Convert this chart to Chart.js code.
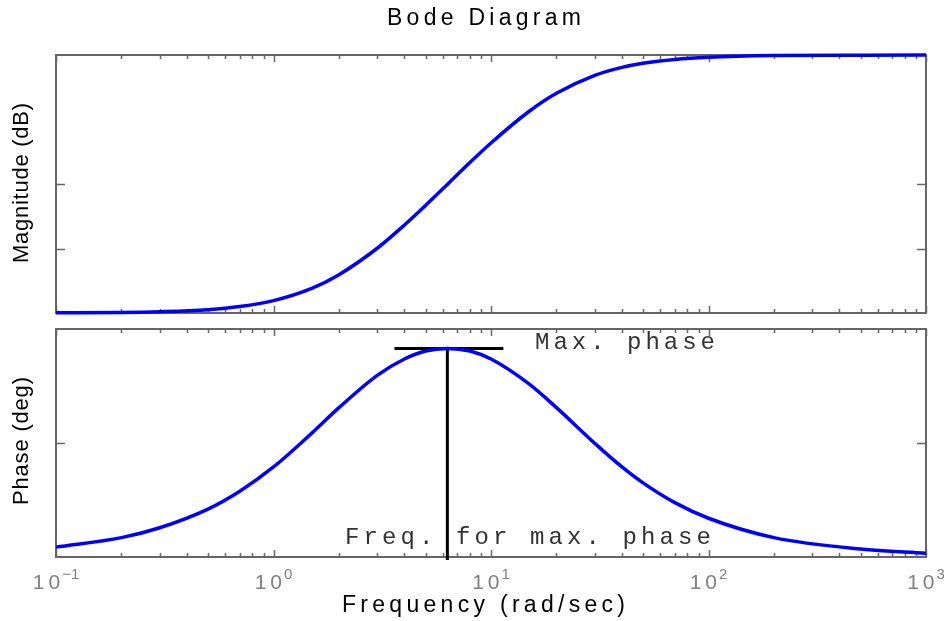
<!DOCTYPE html>
<html>
<head>
<meta charset="utf-8">
<script src="https://cdn.jsdelivr.net/npm/chart.js@4.4.1/dist/chart.umd.min.js"></script>
<style>
  body { margin: 0; background: #fff; }
  #wrap { position: relative; width: 950px; height: 621px; }
  canvas { position: absolute; left: 0; }
</style>
</head>
<body>
<div id="wrap">
  <canvas id="mag" width="950" height="320" style="top:0"></canvas>
  <canvas id="phase" width="950" height="301" style="top:320px"></canvas>
</div>
<script>
// values
const freq = [0.1, 0.2, 0.3, 0.5, 0.7, 1, 1.5, 2, 3, 4, 5, 6.3, 8, 10, 15, 20, 30, 40, 50, 70, 100, 200, 500, 1000];
const magDb = [0.01, 0.04, 0.10, 0.26, 0.50, 0.96, 1.91, 2.97, 5.02, 6.82, 8.34, 9.97, 11.66, 13.18, 15.64, 17.03, 18.42, 19.04, 19.36, 19.66, 19.83, 19.96, 19.99, 20.0];
const phaseDeg = [2.6, 5.1, 7.7, 12.6, 17.3, 23.7, 32.6, 39.3, 47.8, 52.1, 54.2, 54.9, 54.2, 52.1, 45.5, 39.3, 29.9, 23.7, 19.5, 14.3, 10.2, 5.1, 2.1, 1.0];

// max phase marker
const maxPhase = 54.9;
const maxPhaseFreq = 6.3;
const maxBarFreqs = [3.6, 11.4];

// axes
const decades = [0.1, 1, 10, 100, 1000];
const decadeExp = ['\u22121', '0', '1', '2', '3'];
const magTicks = [5, 10];
const phaseTicks = [30];

const AXIS = '#666666';
const SANS = '"Liberation Sans", Arial, sans-serif';
const MONO = '"Liberation Mono", "Courier New", monospace';

// draw text with extra spacing so it covers a given width
function spacedText(ctx, text, x, y, width) {
    let w = 0;
    for (const ch of text) w += ctx.measureText(ch).width;
    const gap = text.length > 1 ? (width - w) / (text.length - 1) : 0;
    for (const ch of text) {
        ctx.fillText(ch, x, y);
        x += ctx.measureText(ch).width + gap;
    }
}

// box plus inward tick marks, like the old matlab axes
function framePlugin(yTicks) {
    return {
        id: 'frame',
        beforeDatasetsDraw(chart) {
            const { ctx, chartArea: a, scales } = chart;
            ctx.save();
            ctx.strokeStyle = AXIS;
            ctx.lineWidth = 2;
            ctx.strokeRect(a.left, a.top, a.right - a.left, a.bottom - a.top);
            ctx.lineWidth = 1.5;
            ctx.beginPath();
            decades.forEach(d => {
                for (let m = 1; m <= 9; m++) {
                    const v = d * m;
                    if (v > 1000) break;
                    const px = Math.round(scales.x.getPixelForValue(v)) + 0.5;
                    const len = m === 1 ? 7 : 4;
                    ctx.moveTo(px, a.bottom); ctx.lineTo(px, a.bottom - len);
                    ctx.moveTo(px, a.top); ctx.lineTo(px, a.top + len);
                }
            });
            yTicks.forEach(t => {
                const py = Math.round(scales.y.getPixelForValue(t)) + 0.5;
                ctx.moveTo(a.left, py); ctx.lineTo(a.left + 9, py);
                ctx.moveTo(a.right, py); ctx.lineTo(a.right - 9, py);
            });
            ctx.stroke();
            ctx.restore();
        }
    };
}

const magText = {
    id: 'magText',
    afterDraw(chart) {
        const ctx = chart.ctx;
        ctx.save();
        ctx.fillStyle = '#000';
        ctx.textBaseline = 'middle';
        ctx.font = '23px ' + SANS;
        spacedText(ctx, 'Bode Diagram', 387, 19, 194);
        ctx.translate(22, 183);
        ctx.rotate(-Math.PI / 2);
        ctx.font = '22px ' + SANS;
        spacedText(ctx, 'Magnitude (dB)', -80, 0, 160);
        ctx.restore();
    }
};

const phaseText = {
    id: 'phaseText',
    afterDraw(chart) {
        const { ctx, scales } = chart;
        ctx.save();
        // decade labels
        ctx.fillStyle = '#808080';
        ctx.textBaseline = 'alphabetic';
        decades.forEach((d, i) => {
            ctx.font = '21px ' + SANS;
            const wb = ctx.measureText('10').width + 4;
            ctx.font = '15px ' + SANS;
            const ws = ctx.measureText(decadeExp[i]).width;
            const px = scales.x.getPixelForValue(d);
            const x = px - (wb + 2 + ws) / 2;
            ctx.font = '21px ' + SANS;
            spacedText(ctx, '10', x, 269, wb);
            ctx.font = '15px ' + SANS;
            ctx.fillText(decadeExp[i], x + wb + 2, 259);
        });
        // axis titles
        ctx.fillStyle = '#000';
        ctx.textBaseline = 'middle';
        ctx.font = '23px ' + SANS;
        spacedText(ctx, 'Frequency (rad/sec)', 342, 286, 283);
        // annotations
        ctx.fillStyle = '#333';
        ctx.font = '24px ' + MONO;
        spacedText(ctx, 'Max. phase', 535, 23, 180);
        spacedText(ctx, 'Freq. for max. phase', 345, 218, 366);
        ctx.fillStyle = '#000';
        ctx.translate(22, 121);
        ctx.rotate(-Math.PI / 2);
        ctx.font = '22px ' + SANS;
        spacedText(ctx, 'Phase (deg)', -64, 0, 128);
        ctx.restore();
    }
};

const xScale = { type: 'logarithmic', min: 0.1, max: 1000, display: false };

new Chart(document.getElementById('mag'), {
    type: 'line',
    data: {
        datasets: [{
            data: freq.map((f, i) => ({ x: f, y: magDb[i] })),
            borderColor: '#0000ff',
            borderWidth: 3.5,
            pointRadius: 0,
            cubicInterpolationMode: 'monotone',
            clip: 3
        }]
    },
    options: {
        responsive: false,
        animation: false,
        layout: { padding: { left: 56, right: 24, top: 55, bottom: 7 } },
        scales: { x: xScale, y: { min: 0, max: 20, display: false } },
        plugins: { legend: { display: false }, tooltip: { enabled: false } }
    },
    plugins: [framePlugin(magTicks), magText]
});

new Chart(document.getElementById('phase'), {
    type: 'line',
    data: {
        datasets: [{
            data: freq.map((f, i) => ({ x: f, y: phaseDeg[i] })),
            borderColor: '#0000ff',
            borderWidth: 3.5,
            pointRadius: 0,
            cubicInterpolationMode: 'monotone',
            clip: 3
        }, {
            data: maxBarFreqs.map(f => ({ x: f, y: maxPhase })),
            borderColor: '#000',
            borderWidth: 3,
            pointRadius: 0,
            clip: false
        }, {
            data: [{ x: maxPhaseFreq, y: maxPhase }, { x: maxPhaseFreq, y: -0.8 }],
            borderColor: '#000',
            borderWidth: 3,
            pointRadius: 0,
            clip: false
        }]
    },
    options: {
        responsive: false,
        animation: false,
        layout: { padding: { left: 56, right: 24, top: 9, bottom: 64 } },
        scales: { x: xScale, y: { min: 0, max: 60, display: false } },
        plugins: { legend: { display: false }, tooltip: { enabled: false } }
    },
    plugins: [framePlugin(phaseTicks), phaseText]
});
</script>
</body>
</html>
